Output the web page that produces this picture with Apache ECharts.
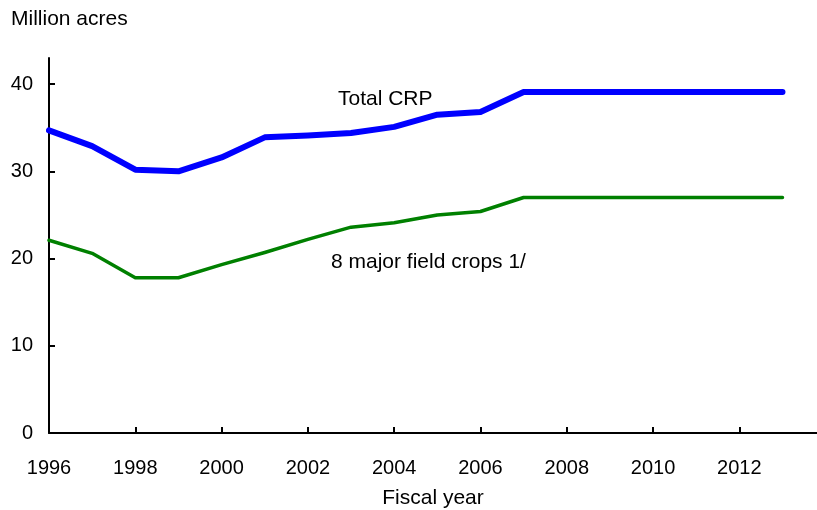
<!DOCTYPE html>
<html><head><meta charset="utf-8">
<script src="https://cdn.jsdelivr.net/npm/echarts@6/dist/echarts.min.js"></script>
<style>html,body{margin:0;padding:0;background:#fff}#c{width:817px;height:510px}</style>
</head><body><div id="c"></div>
<script>
const years = [1996,1997,1998,1999,2000,2001,2002,2003,2004,2005,2006,2007,2008,2009,2010,2011,2012,2013];
const totalCRP = [34.7,32.9,30.2,30.0,31.6,33.9,34.1,34.4,35.1,36.5,36.8,39.1,39.1,39.1,39.1,39.1,39.1,39.1];
const majorCrops = [22.1,20.6,17.8,17.8,19.3,20.7,22.2,23.6,24.1,25.0,25.4,27.0,27.0,27.0,27.0,27.0,27.0,27.0];
const xTicks = [1996,1998,2000,2002,2004,2006,2008,2010,2012];
const yTicks = [0,10,20,30,40];
const font = 'Arial, "Liberation Sans", sans-serif';
const chart = echarts.init(document.getElementById('c'));
chart.setOption({
  animation:false,
  grid:{left:49,right:0,top:58,bottom:77,containLabel:false,outerBoundsMode:'none'},
  xAxis:{type:'value',min:1996,max:2013.8,interval:2,
    name:'Fiscal year',nameLocation:'middle',nameGap:55,
    nameTextStyle:{color:'#000',fontSize:21,fontFamily:font},
    axisLine:{lineStyle:{color:'#000',width:2}},
    axisTick:{inside:true,length:6,customValues:xTicks,lineStyle:{color:'#000',width:2}},
    axisLabel:{color:'#000',fontSize:20,fontFamily:font,margin:25,customValues:xTicks,
      showMaxLabel:true,formatter:v=>String(v)},
    splitLine:{show:false}},
  yAxis:{type:'value',min:0,max:43,interval:10,
    axisLine:{show:true,lineStyle:{color:'#000',width:2}},
    axisTick:{show:true,inside:true,length:6,customValues:yTicks,lineStyle:{color:'#000',width:2}},
    axisLabel:{color:'#000',fontSize:20,fontFamily:font,margin:16,customValues:yTicks,
      formatter:v=>yTicks.includes(v)?String(v):''},
    splitLine:{show:false}},
  graphic:[
    {type:'text',x:11,y:19,style:{text:'Million acres',fill:'#000',font:'21px '+font,verticalAlign:'middle'}},
    {type:'text',x:338,y:99,style:{text:'Total CRP',fill:'#000',font:'21px '+font,verticalAlign:'middle'}},
    {type:'text',x:331,y:262,style:{text:'8 major field crops 1/',fill:'#000',font:'21px '+font,verticalAlign:'middle'}}
  ],
  series:[
    {type:'line',data:years.map((y,i)=>[y,totalCRP[i]]),symbol:'none',
      lineStyle:{color:'#0000ff',width:6,cap:'round',join:'round'}},
    {type:'line',data:years.map((y,i)=>[y,majorCrops[i]]),symbol:'none',
      lineStyle:{color:'#008000',width:3.5,cap:'round',join:'round'}}
  ]
});
</script></body></html>
